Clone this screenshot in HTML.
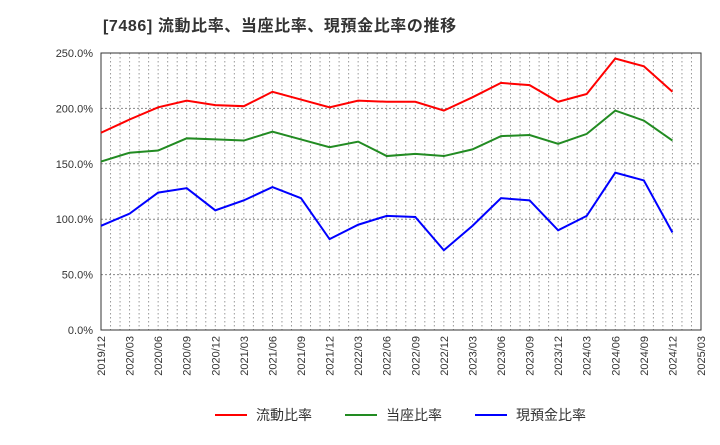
<!DOCTYPE html>
<html><head><meta charset="utf-8"><style>
body{margin:0;background:#fff;font-family:"Liberation Sans","Noto Sans CJK JP",sans-serif;}
</style></head><body>
<svg width="720" height="440" xmlns="http://www.w3.org/2000/svg" font-family="Liberation Sans, Noto Sans CJK JP, sans-serif">
<text x="103" y="31" font-size="16" font-weight="bold" fill="#333" letter-spacing="0.6">[7486]  流動比率、当座比率、現預金比率の推移</text>
<g id="grid"></g>
<g id="series"></g>
<g id="legend"></g>
</svg>
<script>
const categories=["2019/12","2020/03","2020/06","2020/09","2020/12","2021/03","2021/06","2021/09","2021/12","2022/03","2022/06","2022/09","2022/12","2023/03","2023/06","2023/09","2023/12","2024/03","2024/06","2024/09","2024/12","2025/03"];
const currentRatio=[178,190,201,207,203,202,215,208,201,207,206,206,198,210,223,221,206,213,245,238,215];
const quickRatio=[152,160,162,173,172,171,179,172,165,170,157,159,157,163,175,176,168,177,198,189,171];
const cashRatio=[94,105,124,128,108,117,129,119,82,95,103,102,72,94,119,117,90,103,142,135,88];
const yTicks=[0,50,100,150,200,250];
const NS="http://www.w3.org/2000/svg";
const L=101,R=701,T=53,B=330;
const x=i=>L+(R-L)*i/(categories.length-1);
const y=v=>B-(B-T)*v/250;
function mk(t,a,p){const e=document.createElementNS(NS,t);for(const k in a)e.setAttribute(k,a[k]);p.appendChild(e);return e;}
const g=document.getElementById('grid');
for(let m=1;m<(categories.length-1)*3;m++){const xx=L+(R-L)*m/((categories.length-1)*3);
const ln=mk('line',{x1:xx,x2:xx,y1:T,y2:B,stroke:'#999','stroke-dasharray':'1.5,2.5','stroke-width':1},g);

}
yTicks.forEach(v=>{if(v>0&&v<250){const ln=mk('line',{x1:L,x2:R,y1:y(v),y2:y(v),stroke:'#888','stroke-dasharray':'2,2','stroke-width':1},g);

}
const t=mk('text',{x:L-8,y:y(v)+4,'text-anchor':'end','font-size':11,fill:'#333'},g);t.textContent=v.toFixed(1)+'%';

});
const fr=mk('rect',{x:L,y:T,width:R-L,height:B-T,fill:'none',stroke:'#333','stroke-width':1},g);


categories.forEach((c,i)=>{const t=mk('text',{transform:`translate(${x(i)+4},${B+6}) rotate(-90)`,'text-anchor':'end','font-size':11,fill:'#333'},g);t.textContent=c;

});
const s=document.getElementById('series');
[[currentRatio,'#ff0000','current-ratio-line'],[quickRatio,'#228b22','quick-ratio-line'],[cashRatio,'#0000ff','cash-ratio-line']].forEach(([d,c,n])=>{
const p=mk('polyline',{points:d.map((v,i)=>x(i)+','+y(v)).join(' '),fill:'none',stroke:c,'stroke-width':2},s);

});
const lg=document.getElementById('legend');
[['流動比率','#ff0000',215],['当座比率','#228b22',345],['現預金比率','#0000ff',475]].forEach(([t,c,lx])=>{
const ln=mk('line',{x1:lx,x2:lx+32,y1:415,y2:415,stroke:c,'stroke-width':2},lg);


const tx=mk('text',{x:lx+41,y:420,'font-size':14,fill:'#333'},lg);tx.textContent=t;

});
</script>
</body></html>
